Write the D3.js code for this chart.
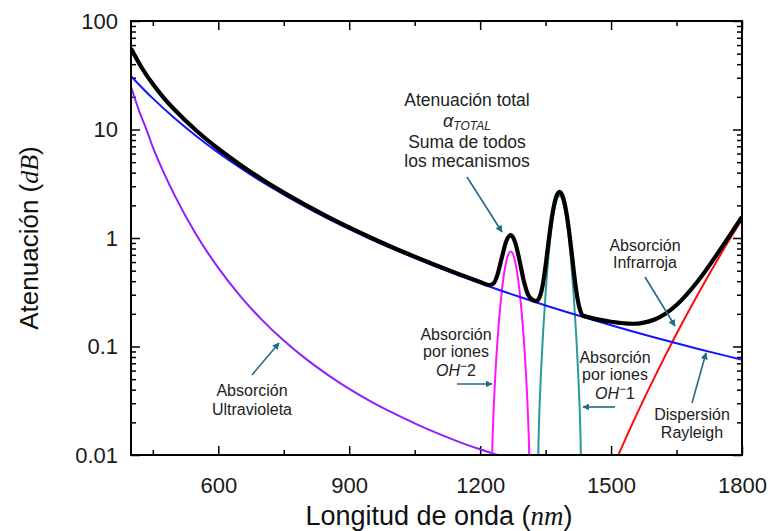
<!DOCTYPE html>
<html><head><meta charset="utf-8">
<script src="https://cdn.jsdelivr.net/npm/d3@7"></script>
<style>
html,body{margin:0;padding:0;background:#fff;}
svg{display:block;}
text{font-family:"Liberation Sans",Arial,sans-serif;}
</style>
</head><body>
<svg id="chart" width="771" height="531"></svg>
<script>
// ---------- data ----------
const totalWl  = [400,425,450,475,500,550,600,650,700,750,800,850,900,950,1000,1050,1100,1150,1200,1220,1230,1240,1250,1260,1270,1280,1290,1300,1310,1320,1330,1334,1340,1344,1350,1354,1360,1364,1370,1374,1382,1390,1394,1400,1404,1410,1414,1420,1424,1430,1434,1450,1500,1550,1600,1650,1700,1750,1800];
const totalVal = [55.8,36.9,26.2,19.6,15.2,9.74,6.65,4.74,3.48,2.62,2.02,1.575,1.25,1.005,0.818,0.673,0.558,0.467,0.394,0.369,0.379,0.463,0.668,0.937,1.064,0.917,0.629,0.403,0.2985,0.269,0.262,0.274,0.3175,0.380,0.558,0.752,1.168,1.516,2.063,2.377,2.665,2.367,2.048,1.493,1.140,0.716,0.516,0.331,0.2635,0.2114,0.1946,0.1856,0.169,0.162,0.1775,0.2415,0.406,0.781,1.568];

const rayleighWl  = [400,450,500,550,600,650,700,750,800,850,900,950,1000,1050,1100,1150,1200,1250,1300,1350,1400,1450,1500,1550,1600,1650,1700,1750,1800];
const rayleighVal = [31,19.35,12.70,8.67,6.12,4.45,3.30,2.51,1.94,1.52,1.21,0.974,0.794,0.653,0.542,0.454,0.383,0.325,0.278,0.239,0.207,0.180,0.157,0.1375,0.121,0.107,0.095,0.0846,0.0756];

const uvWl  = [400,410,420,435,450,475,500,550,600,650,700,750,800,850,900,950,1000,1050,1100,1150,1200,1250,1300];
const uvVal = [24.8,18.7,14.3,10.1,6.88,4.01,2.47,1.065,0.530,0.293,0.176,0.1135,0.0773,0.0551,0.0407,0.0311,0.0244,0.0196,0.0160,0.0133,0.0113,0.0097,0.0084];

const oh2Wl  = [1225,1228,1230,1234,1240,1250,1260,1270,1280,1290,1300,1306,1310,1312,1315];
const oh2Val = [0.0028,0.0121,0.021,0.0474,0.117,0.333,0.612,0.749,0.612,0.333,0.117,0.0474,0.021,0.0121,0.0028];

const oh1Wl  = [1330,1334,1340,1344,1350,1354,1360,1364,1370,1374,1382,1390,1394,1400,1404,1410,1414,1420,1424,1430,1434];
const oh1Val = [0.002,0.0146,0.0635,0.129,0.311,0.508,0.929,1.279,1.831,2.147,2.44,2.147,1.831,1.279,0.929,0.508,0.311,0.129,0.0635,0.0146,0.002];

const irWl  = [1500,1550,1600,1650,1700,1750,1800];
const irVal = [0.00705,0.0199,0.0525,0.131,0.308,0.693,1.49];

const xMajor = [600,900,1200,1500,1800];
const xMinor = [450,750,1050,1350,1650];
const yMajor = [0.01,0.1,1,10,100];
const yLabels = ["0.01","0.1","1","10","100"];
const yMinor = [];
[0.01,0.1,1,10].forEach(d=>{for(let k=2;k<=9;k++) yMinor.push(+(d*k).toPrecision(3));});

// ---------- layout ----------
const L=131, R=742, T=21, B=455;
const svg = d3.select("#chart");
const x = d3.scaleLinear().domain([400,1800]).range([L,R]);
const y = d3.scaleLog().domain([0.01,100]).range([B,T]);

const defs = svg.append("defs");
defs.append("clipPath").attr("id","plot").append("rect")
  .attr("x",L).attr("y",T).attr("width",R-L).attr("height",B-T);
defs.append("marker").attr("id","arr").attr("viewBox","0 0 10 10")
  .attr("refX",9).attr("refY",5).attr("markerWidth",7).attr("markerHeight",7)
  .attr("markerUnits","userSpaceOnUse").attr("orient","auto")
  .append("path").attr("d","M0,0 L10,5 L0,10 Z").attr("fill","#1f6b88");

// ---------- axes ----------
function styleAxis(g){ g.select(".domain").remove(); g.selectAll("line").attr("stroke","#000").attr("stroke-width",1.5); }
const tickFont = g => g.selectAll("text").attr("font-size",22).attr("fill","#1a1a1a").attr("font-family","'Liberation Sans',Arial,sans-serif");

svg.append("g").attr("transform",`translate(0,${B})`)
  .call(d3.axisBottom(x).tickValues(xMajor).tickSize(-9).tickPadding(22).tickFormat(d3.format("d")))
  .call(styleAxis).call(tickFont);
svg.append("g").attr("transform",`translate(0,${B})`)
  .call(d3.axisBottom(x).tickValues(xMinor).tickSize(-5).tickFormat(""))
  .call(styleAxis);
svg.append("g").attr("transform",`translate(0,${T})`)
  .call(d3.axisTop(x).tickValues(xMajor).tickSize(-9).tickFormat(""))
  .call(styleAxis);
svg.append("g").attr("transform",`translate(0,${T})`)
  .call(d3.axisTop(x).tickValues(xMinor).tickSize(-5).tickFormat(""))
  .call(styleAxis);

svg.append("g").attr("transform",`translate(${L},0)`)
  .call(d3.axisLeft(y).tickValues(yMajor).tickSize(-9).tickPadding(13).tickFormat((d,i)=>yLabels[i]))
  .call(styleAxis).call(tickFont);
svg.append("g").attr("transform",`translate(${L},0)`)
  .call(d3.axisLeft(y).tickValues(yMinor).tickSize(-5).tickFormat(""))
  .call(styleAxis);
svg.append("g").attr("transform",`translate(${R},0)`)
  .call(d3.axisRight(y).tickValues(yMajor).tickSize(-9).tickFormat(""))
  .call(styleAxis);
svg.append("g").attr("transform",`translate(${R},0)`)
  .call(d3.axisRight(y).tickValues(yMinor).tickSize(-5).tickFormat(""))
  .call(styleAxis);

// ---------- curves ----------
const plot = svg.append("g").attr("clip-path","url(#plot)");
function drawLine(wl, val, color, width){
  const pts = wl.map((w,i)=>[w,val[i]]);
  plot.append("path").datum(pts)
    .attr("d", d3.line().x(d=>x(d[0])).y(d=>y(d[1])).curve(d3.curveMonotoneX))
    .attr("fill","none").attr("stroke",color).attr("stroke-width",width)
    .attr("stroke-linejoin","round");
}
drawLine(uvWl, uvVal, "#8f1fff", 2);
drawLine(irWl, irVal, "#ff0a0a", 2);
drawLine(oh2Wl, oh2Val, "#ff14ff", 2);
drawLine(oh1Wl, oh1Val, "#2a9b9b", 2);
drawLine(rayleighWl, rayleighVal, "#1414ff", 2);
drawLine(totalWl, totalVal, "#000", 4.2);

// frame
svg.append("rect").attr("x",L).attr("y",T).attr("width",R-L).attr("height",B-T)
  .attr("fill","none").attr("stroke","#000").attr("stroke-width",2);

// ---------- axis titles ----------
const serif = "'Liberation Serif','DejaVu Serif',serif";
const xt = svg.append("text").attr("x",439).attr("y",525).attr("text-anchor","middle")
  .attr("font-size",27).attr("fill","#111");
xt.append("tspan").text("Longitud de onda (");
xt.append("tspan").attr("font-family",serif).attr("font-style","italic").text("nm");
xt.append("tspan").text(")");

const yt = svg.append("text").attr("transform","translate(38,238) rotate(-90)")
  .attr("text-anchor","middle").attr("font-size",26).attr("fill","#111");
yt.append("tspan").text("Atenuación (");
yt.append("tspan").attr("font-family",serif).attr("font-style","italic").text("dB");
yt.append("tspan").text(")");

// ---------- annotations ----------
const annColor = "#222";
function label(cx, lines, size){
  lines.forEach(([txt, by])=>{
    svg.append("text").attr("x",cx).attr("y",by).attr("text-anchor","middle")
      .attr("font-size",size).attr("fill",annColor).text(txt);
  });
}
function arrow(x1,y1,x2,y2){
  svg.append("line").attr("x1",x1).attr("y1",y1).attr("x2",x2).attr("y2",y2)
    .attr("stroke","#1f6b88").attr("stroke-width",1.6).attr("marker-end","url(#arr)");
}
function ionLabel(cx, by, n){
  const t = svg.append("text").attr("x",cx).attr("y",by).attr("text-anchor","middle")
    .attr("font-family",serif).attr("font-size",16).attr("fill",annColor);
  t.append("tspan").attr("font-style","italic").text("OH");
  t.append("tspan").attr("dy",-6).attr("font-size",12).text("−");
  t.append("tspan").attr("dy",6).text(n);
}

// total
label(467, [["Atenuación total",106]], 17.5);
const at = svg.append("text").attr("x",467).attr("y",127).attr("text-anchor","middle")
  .attr("font-family",serif).attr("font-style","italic").attr("fill",annColor).attr("font-size",18);
at.append("tspan").text("α");
at.append("tspan").attr("dy",3).attr("font-size",12).text("TOTAL");
label(467, [["Suma de todos",148],["los mecanismos",167]], 17.5);
arrow(467,177,502,232);

// UV
label(252, [["Absorción",396],["Ultravioleta",415]], 16);
arrow(252,375,279,343);

// OH-2
label(456, [["Absorción",340],["por iones",357]], 16);
ionLabel(456, 376, "2");
arrow(457,384,492,384);

// OH-1
label(615, [["Absorción",363],["por iones",380]], 16);
ionLabel(615, 399, "1");
arrow(615,407,583,407);

// IR
label(645, [["Absorción",251],["Infrarroja",268]], 16);
arrow(645,277,675,326);

// Rayleigh
label(692, [["Dispersión",420],["Rayleigh",438]], 16);
arrow(692,403,706,353);
</script>
</body></html>
